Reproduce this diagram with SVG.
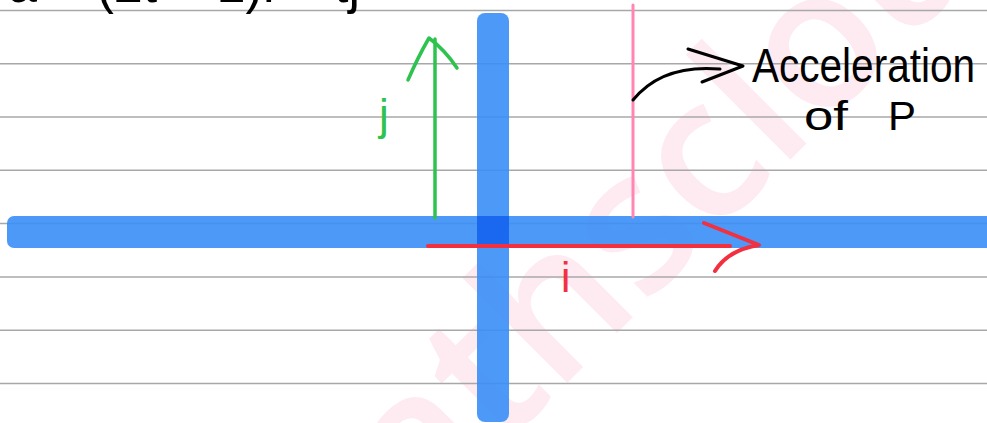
<svg xmlns="http://www.w3.org/2000/svg" width="987" height="423" viewBox="0 0 987 423">
  <style>
    .rule { stroke: #a8a8a8; stroke-width: 1.5; }
    .hand { font-family: "Liberation Sans", "DejaVu Sans", sans-serif; }
    .ink { fill: none; stroke-linecap: round; stroke-linejoin: round; }
  </style>
  <rect width="987" height="423" fill="#ffffff"/>
  <g id="watermark">
    <text x="0" y="0" transform="translate(290,660) rotate(-45)" font-family="'Open Sans', 'Liberation Sans', sans-serif" font-weight="600" font-size="195" fill="#fdebf1">mathscloud</text>
  </g>
  <g id="ruled-lines">
    <line class="rule" x1="0" y1="10.5" x2="987" y2="10.5"/>
    <line class="rule" x1="0" y1="63.8" x2="987" y2="63.8"/>
    <line class="rule" x1="0" y1="117" x2="987" y2="117"/>
    <line class="rule" x1="0" y1="170.3" x2="987" y2="170.3"/>
    <line class="rule" x1="0" y1="223.6" x2="987" y2="223.6"/>
    <line class="rule" x1="0" y1="277" x2="987" y2="277"/>
    <line class="rule" x1="0" y1="330.3" x2="987" y2="330.3"/>
    <line class="rule" x1="0" y1="383.6" x2="987" y2="383.6"/>
  </g>
  <g id="top-text">
    <text class="hand" x="8" y="2" font-size="56" textLength="352" lengthAdjust="spacingAndGlyphs" fill="#000">a = (2t + 1)i + tj</text>
  </g>
  <g id="axes">
    <rect x="7" y="216" width="990" height="32" rx="7" fill="#3a8ef6" fill-opacity="0.9"/>
    <rect x="477" y="13" width="32" height="409" rx="8" fill="#3a8ef6" fill-opacity="0.9"/>
    <rect x="477" y="216" width="32" height="32" fill="#1b68f0"/>
  </g>
  <g id="connectors">
    <path class="ink" d="M435,218 L435,39" stroke="#2ec24f" stroke-width="3.5"/>
    <path class="ink" d="M408,80 Q418,57 429,38 Q445,50 457,68" stroke="#2ec24f" stroke-width="3.5"/>
    <path class="ink" d="M633,5 L633,217" stroke="#ff85b5" stroke-width="3"/>
    <path class="ink" d="M428,246 L730,246" stroke="#f2303f" stroke-width="4"/>
    <path class="ink" d="M704,223 L759,245 Q728,250 715,271" stroke="#f2303f" stroke-width="4"/>
    <path class="ink" d="M633,100 Q662,64 720,69" stroke="#000" stroke-width="3"/>
    <path class="ink" d="M688,49 L743,66 L702,82" stroke="#000" stroke-width="3"/>
  </g>
  <g id="label-j">
    <text class="hand" x="379" y="130" font-size="44" fill="#2ec24f">j</text>
  </g>
  <g id="label-i">
    <text class="hand" x="561" y="292" font-size="42" fill="#f2303f">i</text>
  </g>
  <g id="label-acceleration">
    <text class="hand" x="752" y="82" font-size="48" textLength="223" lengthAdjust="spacingAndGlyphs" fill="#000">Acceleration</text>
    <text class="hand" x="804" y="130" font-size="41" textLength="44" lengthAdjust="spacingAndGlyphs" fill="#000">of</text>
    <text class="hand" x="888" y="130" font-size="41" textLength="28" lengthAdjust="spacingAndGlyphs" fill="#000">P</text>
  </g>
</svg>
